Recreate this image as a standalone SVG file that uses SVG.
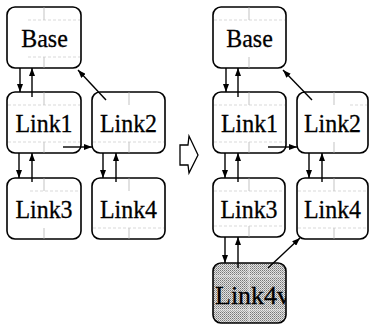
<svg xmlns="http://www.w3.org/2000/svg" width="371" height="324" viewBox="0 0 371 324">
  <style>
    .box { fill: #fff; stroke: #000; stroke-width: 1.6; }
    .virt { fill: url(#halftone); stroke: #000; stroke-width: 1.6; }
    .guide { stroke: #aaa; stroke-width: 0.7; fill: none; }
    .dash { stroke: #c8c8c8; stroke-width: 0.7; stroke-dasharray: 3 2; fill: none; }
    .lbl { font-family: 'Liberation Serif', 'Times New Roman', serif; font-size: 26px; text-anchor: middle; fill: #000; stroke: #000; stroke-width: 0.3; }
    .edge { stroke: #000; stroke-width: 1.4; fill: none; marker-end: url(#head); }
  </style>
  <defs>
    <marker id="head" markerUnits="userSpaceOnUse" markerWidth="9" markerHeight="6" refX="8" refY="3" orient="auto">
      <path d="M0,0 L8,3 L0,6 z" fill="#000"/>
    </marker>
    <pattern id="halftone" width="2" height="2" patternUnits="userSpaceOnUse">
      <rect width="2" height="2" fill="#e2e2e2"/>
      <rect width="1" height="1" fill="#777"/>
      <rect x="1" y="1" width="1" height="1" fill="#a0a0a0"/>
    </pattern>
    <clipPath id="clip4v">
      <rect x="213" y="263" width="73" height="60" rx="8"/>
    </clipPath>
  </defs>

  <!-- before: original hierarchy -->
  <g id="l-base">
    <rect class="box" x="7" y="7" width="74" height="61" rx="8"/>
    <path class="guide" d="M44,7 V20 M44,57 V68"/>
    <path class="dash" d="M28,20 H80 M28,57 H80"/>
    <text class="lbl" transform="translate(44.5,47) scale(0.92,1)">Base</text>
  </g>
  <g id="l-link1">
    <rect class="box" x="7" y="92" width="74" height="61" rx="8"/>
    <path class="guide" d="M44,92 V105 M44,142 V153"/>
    <path class="dash" d="M8,105 H80 M8,142 H80"/>
    <text class="lbl" transform="translate(44,132) scale(0.92,1)">Link1</text>
  </g>
  <g id="l-link2">
    <rect class="box" x="92" y="92" width="73" height="61" rx="8"/>
    <path class="guide" d="M129,92 V105 M129,142 V153"/>
    <path class="dash" d="M93,142 H164"/>
    <text class="lbl" transform="translate(128.5,132) scale(0.92,1)">Link2</text>
  </g>
  <g id="l-link3">
    <rect class="box" x="7" y="178" width="74" height="61" rx="8"/>
    <path class="guide" d="M44,178 V191 M44,228 V239"/>
    <path class="dash" d="M30,191 H80"/>
    <text class="lbl" transform="translate(44,218) scale(0.92,1)">Link3</text>
  </g>
  <g id="l-link4">
    <rect class="box" x="92" y="178" width="73" height="61" rx="8"/>
    <path class="guide" d="M129,178 V191 M129,228 V239"/>
    <path class="dash" d="M93,228 H164"/>
    <text class="lbl" transform="translate(128.5,218) scale(0.92,1)">Link4</text>
  </g>

  <!-- transformation arrow -->
  <g id="step-arrow">
    <polygon points="180,145 188,145 189,136 198,155 189,173 188,165 180,165" fill="#fff" stroke="#000" stroke-width="1.3" stroke-linejoin="miter"/>
  </g>

  <!-- after: hierarchy with virtual link -->
  <g id="r-base">
    <rect class="box" x="213" y="7" width="73" height="61" rx="8"/>
    <path class="guide" d="M249,7 V20 M249,57 V68"/>
    <path class="dash" d="M214,20 H285"/>
    <text class="lbl" transform="translate(249.5,47) scale(0.92,1)">Base</text>
  </g>
  <g id="r-link1">
    <rect class="box" x="213" y="92" width="73" height="61" rx="8"/>
    <path class="guide" d="M249,92 V105 M249,142 V153"/>
    <path class="dash" d="M214,105 H285 M214,142 H285"/>
    <text class="lbl" transform="translate(249.5,132) scale(0.92,1)">Link1</text>
  </g>
  <g id="r-link2">
    <rect class="box" x="297" y="92" width="71" height="61" rx="8"/>
    <path class="guide" d="M334,92 V105 M334,142 V153"/>
    <path class="dash" d="M350,105 H367"/>
    <text class="lbl" transform="translate(332.5,132) scale(0.92,1)">Link2</text>
  </g>
  <g id="r-link3">
    <rect class="box" x="213" y="178" width="72" height="59" rx="8"/>
    <path class="guide" d="M249,178 V191 M249,226 V237"/>
    <path class="dash" d="M214,191 H284 M214,226 H284"/>
    <text class="lbl" transform="translate(249,218) scale(0.92,1)">Link3</text>
  </g>
  <g id="r-link4">
    <rect class="box" x="297" y="178" width="71" height="61" rx="8"/>
    <path class="guide" d="M334,178 V191 M334,228 V239"/>
    <path class="dash" d="M298,191 H367 M298,228 H367"/>
    <text class="lbl" transform="translate(332.5,218) scale(0.92,1)">Link4</text>
  </g>
  <g id="r-link4v">
    <rect class="virt" x="213" y="263" width="73" height="60" rx="8"/>
    <path d="M249,264 V322 M214,276 H285 M214,310 H285" stroke="#eee" stroke-width="0.8" fill="none"/>
    <g clip-path="url(#clip4v)">
      <text class="lbl" x="215" y="304" style="text-anchor:start">Link4v</text>
    </g>
  </g>

  <!-- connectors -->
  <g id="connectors">
    <path class="edge" d="M20,68 V92"/>
    <path class="edge" d="M32,97 V68"/>
    <path class="edge" d="M106,100 L78,70"/>
    <path class="edge" d="M63,147 H92"/>
    <path class="edge" d="M19,153 V178"/>
    <path class="edge" d="M32,182 V153"/>
    <path class="edge" d="M103,153 V178"/>
    <path class="edge" d="M116,182 V153"/>

    <path class="edge" d="M226,68 V92"/>
    <path class="edge" d="M238,97 V68"/>
    <path class="edge" d="M312,100 L283,70"/>
    <path class="edge" d="M268,147 H297"/>
    <path class="edge" d="M225,153 V178"/>
    <path class="edge" d="M238,182 V153"/>
    <path class="edge" d="M309,153 V178"/>
    <path class="edge" d="M322,182 V153"/>
    <path class="edge" d="M225,237 V263"/>
    <path class="edge" d="M238,268 V237"/>
    <path class="edge" d="M268,268 L300,238"/>
  </g>
</svg>
